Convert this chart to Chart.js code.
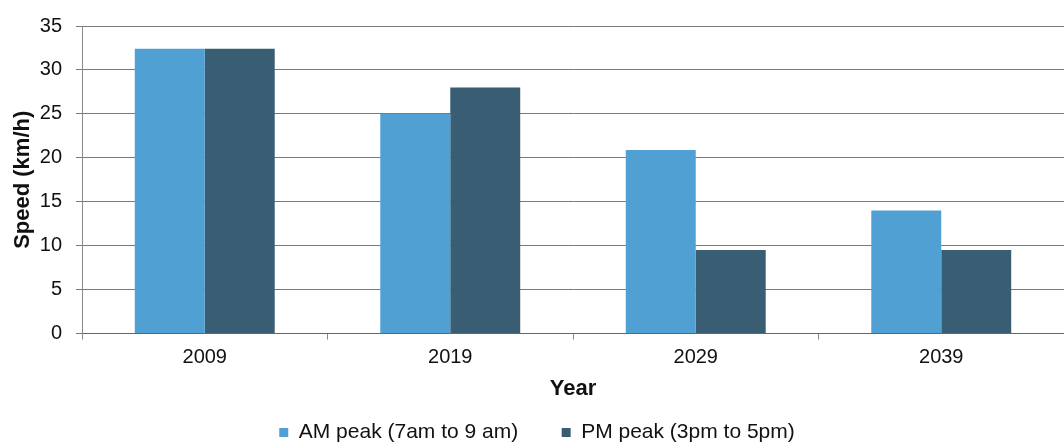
<!DOCTYPE html>
<html>
<head>
<meta charset="utf-8">
<script src="https://cdn.jsdelivr.net/npm/chart.js@4"></script>
<style>
html,body{margin:0;padding:0;background:#fff;}
#wrap{width:1064px;height:443px;position:relative;}
</style>
</head>
<body>
<div id="wrap"><canvas id="c" width="1064" height="443"></canvas></div>
<script>
const categories = ['2009', '2019', '2029', '2039'];
const amPeak = [32.4, 25.0, 20.9, 14.0];
const pmPeak = [32.4, 28.0, 9.5, 9.5];
const seriesNames = ['AM peak (7am to 9 am)', 'PM peak (3pm to 5pm)'];
const yTitle = 'Speed (km/h)';
const xTitle = 'Year';

const fam = 'Liberation Sans, Arial, sans-serif';
const tickFont = {family: fam, size: 20};
const legendFont = {family: fam, size: 21};
const boldFont = {family: fam, size: 22, weight: 'bold'};

new Chart(document.getElementById('c'), {
  type: 'bar',
  data: {
    labels: categories,
    datasets: [
      {label: seriesNames[0], data: amPeak, backgroundColor: '#50a0d4', borderWidth: 0},
      {label: seriesNames[1], data: pmPeak, backgroundColor: '#395e74', borderWidth: 0}
    ]
  },
  options: {
    responsive: false,
    animation: false,
    layout: {padding: {top: -1, right: 0, bottom: -10, left: 10}},
    datasets: {bar: {categoryPercentage: 0.57, barPercentage: 1.0}},
    scales: {
      x: {
        grid: {drawOnChartArea: false, drawTicks: true, tickLength: 6, color: '#888', offset: true},
        border: {color: '#666', width: 1},
        ticks: {color: '#111', font: tickFont, padding: 6},
        title: {display: true, text: xTitle, color: '#111', font: boldFont, padding: {top: 0, bottom: 8}}
      },
      y: {
        min: 0, max: 35,
        ticks: {stepSize: 5, color: '#111', font: tickFont, padding: 14},
        grid: {color: '#7a7a7a', lineWidth: 1, tickLength: 6},
        border: {color: '#888', width: 1},
        title: {display: true, text: yTitle, color: '#111', font: boldFont, padding: {top: 0, bottom: 3}},
        afterFit: function (scale) { scale.width = 72; }
      }
    },
    plugins: {
      legend: {
        position: 'bottom',
        labels: {
          color: '#111',
          font: legendFont,
          boxWidth: 9,
          boxHeight: 9,
          padding: 12,
          generateLabels: function (chart) {
            const items = Chart.defaults.plugins.legend.labels.generateLabels(chart);
            items.forEach(function (it, i) {
              if (i < items.length - 1) it.text = it.text + '\u2002\u2002\u2002';
            });
            return items;
          }
        }
      },
      tooltip: {enabled: false}
    }
  }
});
</script>
</body>
</html>
